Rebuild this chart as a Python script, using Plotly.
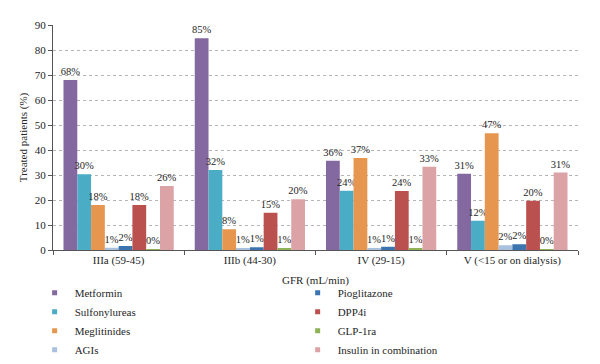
import plotly.graph_objects as go

categories = ["IIIa (59-45)", "IIIb (44-30)", "IV (29-15)", "V (<15 or on dialysis)"]
series_names = ["Metformin", "Sulfonylureas", "Meglitinides", "AGIs",
                "Pioglitazone", "DPP4i", "GLP-1ra", "Insulin in combination"]

metformin = [68.0, 84.7, 35.7, 30.5]
sulfonylureas = [30.3, 32.0, 23.7, 11.7]
meglitinides = [18.0, 8.3, 36.8, 46.7]
agis = [0.9, 0.8, 0.7, 1.9]
pioglitazone = [1.6, 1.1, 1.3, 2.3]
dpp4i = [18.0, 14.9, 23.6, 19.7]
glp1ra = [0.2, 0.6, 0.5, 0.2]
insulin = [25.6, 20.3, 33.3, 31.0]

metformin_lbl = ["68%", "85%", "36%", "31%"]
sulfonylureas_lbl = ["30%", "32%", "24%", "12%"]
meglitinides_lbl = ["18%", "8%", "37%", "47%"]
agis_lbl = ["1%", "1%", "1%", "2%"]
pioglitazone_lbl = ["2%", "1%", "1%", "2%"]
dpp4i_lbl = ["18%", "15%", "24%", "20%"]
glp1ra_lbl = ["0%", "1%", "1%", "0%"]
insulin_lbl = ["26%", "20%", "33%", "31%"]

values = [metformin, sulfonylureas, meglitinides, agis, pioglitazone, dpp4i, glp1ra, insulin]
labels = [metformin_lbl, sulfonylureas_lbl, meglitinides_lbl, agis_lbl,
          pioglitazone_lbl, dpp4i_lbl, glp1ra_lbl, insulin_lbl]
colors = ["#8469A0", "#4BACC6", "#E6964F", "#A9C0DE",
          "#3C74AF", "#BA514F", "#8DB356", "#DCA3A6"]

FONT = "Liberation Serif"
FS = 11
TXT = "#262626"

fig = go.Figure()
for i, (name, v, l, c) in enumerate(zip(series_names, values, labels, colors)):
    fig.add_trace(go.Bar(
        x=categories, y=v, name=name, text=l, textposition="outside",
        textfont=dict(family=FONT, size=10.5, color=TXT),
        constraintext="none", cliponaxis=False,
        marker=dict(color=c, line=dict(width=0)),
        showlegend=False,
    ))
    fig.add_trace(go.Scatter(
        x=[None], y=[None], mode="markers", name=name,
        marker=dict(symbol="square", size=5, color=c),
        legend="legend" if i < 4 else "legend2",
    ))

fig.update_layout(
    width=600, height=364,
    margin=dict(l=53, r=22, t=25, b=114, autoexpand=False),
    paper_bgcolor="white", plot_bgcolor="white",
    font=dict(family=FONT, size=FS, color=TXT),
    barmode="group", bargap=0.16, bargroupgap=0,
    legend=dict(x=-0.035, y=-0.125, xanchor="left", yanchor="top",
                font=dict(family=FONT, size=FS, color=TXT),
                itemsizing="trace", tracegroupgap=0, bgcolor="rgba(0,0,0,0)"),
    legend2=dict(x=0.466, y=-0.125, xanchor="left", yanchor="top",
                 font=dict(family=FONT, size=FS, color=TXT),
                 itemsizing="trace", tracegroupgap=0, bgcolor="rgba(0,0,0,0)"),
)
fig.update_xaxes(
    showline=True, linecolor="#555", linewidth=1,
    ticks="outside", tickson="boundaries", ticklen=4, tickcolor="#555",
    tickfont=dict(family=FONT, size=FS, color=TXT),
    title=dict(text="GFR (mL/min)", font=dict(family=FONT, size=FS, color=TXT), standoff=10),
    showgrid=False,
)
fig.update_yaxes(
    range=[0, 90], dtick=10, showline=True, linecolor="#555", linewidth=1,
    ticks="outside", ticklen=4, tickcolor="#555",
    tickfont=dict(family=FONT, size=FS, color=TXT),
    title=dict(text="Treated patients (%)", font=dict(family=FONT, size=FS, color=TXT), standoff=4),
    showgrid=True, gridcolor="#B5B5B5", griddash="dot", gridwidth=1,
    zeroline=False,
)

fig.write_html("out.html", config={"displayModeBar": False})

# remove the browser's default page margin so the figure sits at the top-left corner
with open("out.html", "r", encoding="utf-8") as f:
    html = f.read()
html = html.replace("<head>", "<head><style>html,body{margin:0;padding:0;}</style>", 1)
with open("out.html", "w", encoding="utf-8") as f:
    f.write(html)
